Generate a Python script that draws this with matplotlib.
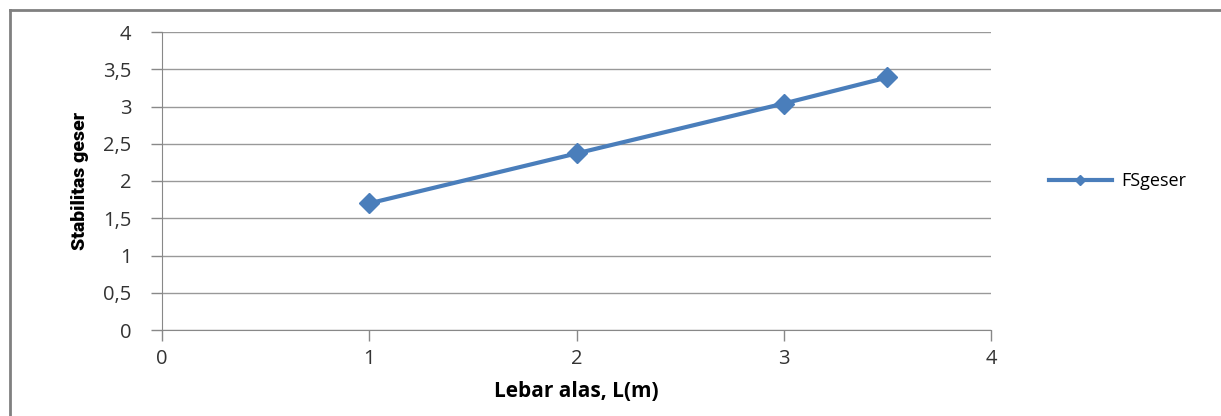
import matplotlib.pyplot as plt
from matplotlib.lines import Line2D

# data
lebar = [1, 2, 3, 3.5]
fs_geser = [1.70, 2.37, 3.04, 3.39]
y_ticks = [0, 0.5, 1, 1.5, 2, 2.5, 3, 3.5, 4]
y_labels = ['0', '0,5', '1', '1,5', '2', '2,5', '3', '3,5', '4']
x_ticks = [0, 1, 2, 3, 4]

plt.rcParams['font.family'] = ['Open Sans', 'DejaVu Sans']

fig = plt.figure(figsize=(12.21, 4.16), dpi=100)
ax = fig.add_axes([162/1221, 86/416, (991-162)/1221, (330-32)/416])

blue = '#4a7ebb'
ax.plot(lebar, fs_geser, color=blue, lw=3, marker='D', ms=10, label='FSgeser')

ax.set_xlim(0, 4)
ax.set_ylim(0, 4)
ax.set_xticks(x_ticks)
ax.set_yticks(y_ticks)
ax.set_yticklabels(y_labels)
ax.tick_params(axis='both', colors='#888888', labelcolor='#333333', labelsize=14.5,
               length=8, width=1, direction='out')
ax.tick_params(axis='y', pad=14)
ax.tick_params(axis='x', pad=6)
ax.grid(axis='y', color='#999999', lw=1)
ax.set_axisbelow(True)
for s in ['top', 'right']:
    ax.spines[s].set_visible(False)
for s in ['left', 'bottom']:
    ax.spines[s].set_color('#888888')

ax.set_xlabel('Lebar alas, L(m)', fontsize=15, fontweight='bold', labelpad=8)
ax.set_ylabel('Stabilitas geser', fontsize=14, fontweight='heavy',
              family=['Roboto', 'DejaVu Sans'], labelpad=10)

ax.legend(loc='center left', bbox_to_anchor=(1.05, 0.5), frameon=False,
          fontsize=13, handlelength=3.5, markerscale=0.5, handletextpad=0.5)

# figure border (top and left visible)
fig.add_artist(Line2D([10/1221, 1], [1 - 10/416, 1 - 10/416], color='#808080', lw=2))
fig.add_artist(Line2D([10/1221, 10/1221], [0, 1 - 10/416], color='#808080', lw=2))

fig.savefig('out.png', dpi=100)
